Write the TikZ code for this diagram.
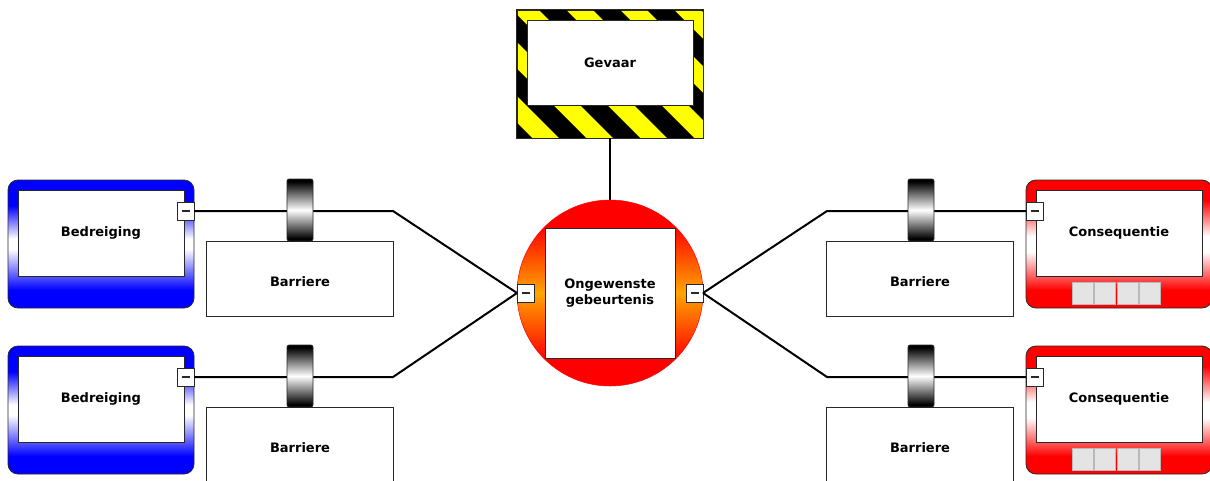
\documentclass[tikz,border=0pt]{standalone}
\usepackage{fontspec}
\setmainfont{DejaVu Sans}
\usetikzlibrary{positioning,calc}
\definecolor{ink}{RGB}{0,0,0}
\definecolor{frame}{RGB}{40,40,40}
\definecolor{threatblue}{RGB}{0,0,255}
\definecolor{conseqred}{RGB}{255,0,0}
\definecolor{eventorange}{RGB}{255,165,0}
\definecolor{hazardyellow}{RGB}{255,255,0}
\definecolor{btngray}{RGB}{228,228,228}
\pgfdeclareverticalshading{threatshade}{100bp}{color(0bp)=(threatblue); color(32bp)=(threatblue);
  color(48bp)=(white); color(52bp)=(white); color(65bp)=(threatblue); color(100bp)=(threatblue)}
\pgfdeclareverticalshading{conseqshade}{100bp}{color(0bp)=(conseqred); color(32bp)=(conseqred);
  color(47bp)=(white); color(53bp)=(white); color(67bp)=(conseqred); color(100bp)=(conseqred)}
\pgfdeclareverticalshading{eventshade}{100bp}{color(0bp)=(conseqred); color(32bp)=(conseqred);
  color(50bp)=(eventorange); color(68bp)=(conseqred); color(100bp)=(conseqred)}
\pgfdeclareverticalshading{ringshade}{100bp}{color(0bp)=(black); color(27bp)=(black);
  color(50bp)=(white); color(73bp)=(black); color(100bp)=(black)}
\newcommand{\minusmark}{\rule{8pt}{1.4pt}}
\tikzset{
  box/.style={draw=frame,line width=0.8pt,fill=white,inner sep=0pt,outer sep=0pt,
    font=\bfseries\fontsize{13}{15}\selectfont,align=center,text=ink},
  holder/.style={draw=frame,line width=0.8pt,rounded corners=10pt,inner sep=0pt,
    outer sep=0pt,minimum width=186pt,minimum height=128pt},
  minusbox/.style={draw=frame,fill=white,line width=0.8pt,minimum width=17pt,
    minimum height=18pt,inner sep=0pt,outer sep=0pt,text=frame},
  barrierring/.style={draw=frame,line width=0.6pt,shading=ringshade,rounded corners=2pt,
    minimum width=26pt,minimum height=62pt,inner sep=0pt},
  btn/.style={fill=btngray,draw=gray!55,line width=0.8pt,minimum width=21pt,
    minimum height=22pt,inner sep=0pt},
  link/.style={line width=2pt,ink}
}
\begin{document}
\begin{tikzpicture}[x=1pt,y=-1pt]
  \useasboundingbox (0,0) rectangle (1210,480);

  % hazard with warning stripes
  \node[draw=frame,fill=hazardyellow,line width=0.8pt,inner sep=0pt,
    minimum width=186pt,minimum height=128pt] (gevaar) at (610,74) {};
  \begin{scope}
    \clip (gevaar.south west) rectangle (gevaar.north east);
    \foreach \k in {5,...,12}
      \fill[black] (53+54*\k,10) -- ++(27,0) -- ++(128,128) -- ++(-27,0) -- cycle;
  \end{scope}
  \draw[frame,line width=0.8pt] (gevaar.south west) rectangle (gevaar.north east);
  \node[box,minimum width=166pt,minimum height=85pt] (gevaarText) at (610,62.5) {Gevaar};

  % top event
  \node[circle,shading=eventshade,draw=conseqred,line width=0.5pt,minimum size=186pt,
    inner sep=0pt] (event) at (610,293) {};
  \node[box,minimum width=130pt,minimum height=130pt] (eventText) at (610,293)
    {\shortstack{Ongewenste\\gebeurtenis}};
  \node[minusbox] (eventW) at (525.5,293) {\minusmark};
  \node[minusbox] (eventE) at (694.5,293) {\minusmark};
  \draw[link] (gevaar.south) -- (event.north);

  % threats (left) and consequences (right)
  \foreach \row/\dy in {A/0,B/166}{
    \node[holder,shading=threatshade] (threat\row) at (101,244+\dy) {};
    \node[box,minimum width=166pt,minimum height=86pt] (threatText\row) at (101,233+\dy) {Bedreiging};
    \node[minusbox] (threatMinus\row) at (185.5,211+\dy) {\minusmark};
    \node[box,minimum width=187pt,minimum height=75pt,text height=15.5pt,text depth=0pt]
      (barrierL\row) at (300,278.5+\dy) {Barriere};
    \coordinate (kneeL\row) at (393,211+\dy);
    \draw[link] (eventW.west) -- (kneeL\row) -- (threatMinus\row.east);
    \node[barrierring] (ringL\row) at (300,210+\dy) {};

    \node[holder,shading=conseqshade] (conseq\row) at (1119,244+\dy) {};
    \node[box,minimum width=166pt,minimum height=86pt] (conseqText\row) at (1119,233+\dy) {Consequentie};
    \node[minusbox] (conseqMinus\row) at (1034.5,211+\dy) {\minusmark};
    \foreach \i in {0,...,3}
      \node[btn] (btn\row\i) at (1083.1+22.25*\i,293+\dy) {};
    \node[box,minimum width=187pt,minimum height=75pt,text height=15.5pt,text depth=0pt]
      (barrierR\row) at (920,278.5+\dy) {Barriere};
    \coordinate (kneeR\row) at (827,211+\dy);
    \draw[link] (eventE.east) -- (kneeR\row) -- (conseqMinus\row.west);
    \node[barrierring] (ringR\row) at (921,210+\dy) {};
  }
\end{tikzpicture}
\end{document}
